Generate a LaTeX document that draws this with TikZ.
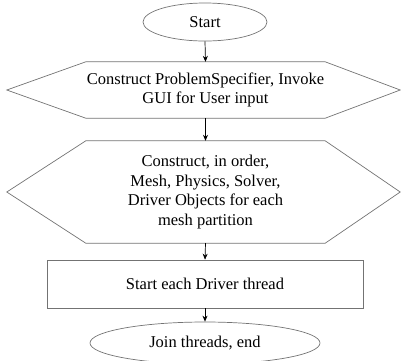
\documentclass[tikz,border=0pt]{standalone}
\usepackage{fontspec}
\setmainfont{Liberation Serif}
\usetikzlibrary{shapes.geometric,arrows.meta,calc}
\begin{document}
\begin{tikzpicture}[x=1pt,y=1pt,
  every node/.style={font=\fontsize{16.5}{19.5}\selectfont, align=center, inner sep=0pt},
  outl/.style={draw=black!55, line width=0.7pt},
  term/.style={ellipse, outl},
  hexbox/.style={rectangle, minimum width=239pt},
  procbox/.style={rectangle, outl},
  arr/.style={draw=black, line width=0.7pt, -{Stealth[length=6pt,width=5pt]}}]
\useasboundingbox (0,0) rectangle (401,-360);
\node[term, minimum width=124pt, minimum height=38pt] (start) at (205,-22) {Start};
\node[hexbox, minimum height=56pt] (h1) at (205.5,-90) {Construct ProblemSpecifier, Invoke\\GUI for User input};
\node[hexbox, minimum height=102pt] (h2) at (205.5,-192) {Construct, in order,\\Mesh, Physics, Solver,\\Driver Objects for each\\mesh partition};
\node[procbox, minimum width=316pt, minimum height=48pt] (run) at (205,-284) {Start each Driver thread};
\node[term, minimum width=230pt, minimum height=42pt] (stop) at (205,-343) {Join threads, end};
\draw[outl] (h1.north west) -- (h1.north east) -- ($(h1.east)+(75,0)$) -- (h1.south east) -- (h1.south west) -- ($(h1.west)+(-79,0)$) -- cycle;
\draw[outl] (h2.north west) -- (h2.north east) -- ($(h2.east)+(75,0)$) -- (h2.south east) -- (h2.south west) -- ($(h2.west)+(-79,0)$) -- cycle;
\draw[arr] (start.south) -- (h1.north);
\draw[arr] (h1.south) -- (h2.north);
\draw[arr] (h2.south) -- (run.north);
\draw[arr] (run.south) -- (stop.north);
\end{tikzpicture}
\end{document}
